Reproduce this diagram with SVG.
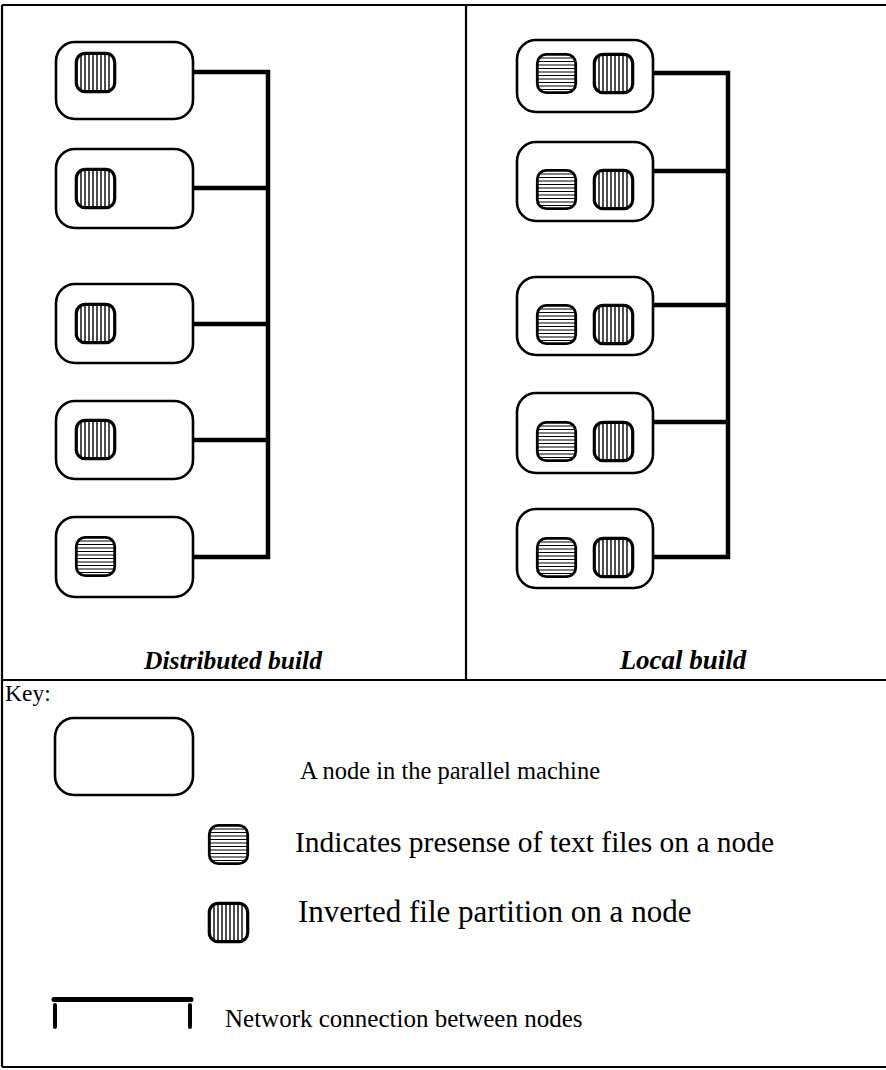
<svg xmlns="http://www.w3.org/2000/svg" xmlns:xlink="http://www.w3.org/1999/xlink" width="886" height="1070" viewBox="0 0 886 1070">
<style>
.frame{fill:none;stroke:#000;stroke-width:2.2}
.node{fill:#fff;stroke:#000;stroke-width:2.6}
.conn{fill:none;stroke:#000;stroke-width:4.5;stroke-linecap:butt;stroke-linejoin:miter}
.title{font-family:"Liberation Serif","Times New Roman",serif;font-weight:bold;font-style:italic;fill:#000}
.key{font-family:"Liberation Serif","Times New Roman",serif;fill:#000}
.hl{stroke:#000;stroke-width:1}
.vl{stroke:#000;stroke-width:1.4}
.net{stroke:#000;stroke-linecap:round;fill:none}
</style>
<defs>
<clipPath id="ic"><rect x="1.3" y="1.3" width="38.4" height="38.4" rx="9"/></clipPath>
<symbol id="hIcon" viewBox="0 0 41 41" overflow="visible">
<rect x="1.3" y="1.3" width="38.4" height="38.4" rx="9" fill="#fff"/>
<g clip-path="url(#ic)" class="hl">
<line x1="0" y1="5" x2="41" y2="5"/><line x1="0" y1="8.5" x2="41" y2="8.5"/><line x1="0" y1="12" x2="41" y2="12"/><line x1="0" y1="15.5" x2="41" y2="15.5"/><line x1="0" y1="19" x2="41" y2="19"/><line x1="0" y1="22.5" x2="41" y2="22.5"/><line x1="0" y1="26" x2="41" y2="26"/><line x1="0" y1="29.5" x2="41" y2="29.5"/><line x1="0" y1="33" x2="41" y2="33"/><line x1="0" y1="36.5" x2="41" y2="36.5"/>
</g>
<rect x="1.3" y="1.3" width="38.4" height="38.4" rx="9" fill="none" stroke="#000" stroke-width="2.8"/>
</symbol>
<symbol id="vIcon" viewBox="0 0 41 41" overflow="visible">
<rect x="1.3" y="1.3" width="38.4" height="38.4" rx="9" fill="#fff"/>
<g clip-path="url(#ic)" class="vl">
<line x1="6" y1="0" x2="6" y2="41"/><line x1="10" y1="0" x2="10" y2="41"/><line x1="14" y1="0" x2="14" y2="41"/><line x1="18" y1="0" x2="18" y2="41"/><line x1="22" y1="0" x2="22" y2="41"/><line x1="26" y1="0" x2="26" y2="41"/><line x1="30" y1="0" x2="30" y2="41"/><line x1="34" y1="0" x2="34" y2="41"/>
</g>
<rect x="1.3" y="1.3" width="38.4" height="38.4" rx="9" fill="none" stroke="#000" stroke-width="3.2"/>
</symbol>
</defs>
<rect width="886" height="1070" fill="#fff"/>
<g id="frame">
<line class="frame" x1="2" y1="5" x2="886" y2="5"/>
<line class="frame" x1="2" y1="5" x2="2" y2="1067"/>
<line class="frame" x1="2" y1="1067" x2="886" y2="1067"/>
<line class="frame" x1="466" y1="5" x2="466" y2="680"/>
<line class="frame" x1="2" y1="680" x2="886" y2="680"/>
</g>
<g id="connectors">
<polyline class="conn" points="193,72 268,72 268,557 193,557"/>
<line class="conn" x1="193" y1="188" x2="268" y2="188"/>
<line class="conn" x1="193" y1="324" x2="268" y2="324"/>
<line class="conn" x1="193" y1="440" x2="268" y2="440"/>
<polyline class="conn" points="653,73 728,73 728,557 653,557"/>
<line class="conn" x1="653" y1="171" x2="728" y2="171"/>
<line class="conn" x1="653" y1="305" x2="728" y2="305"/>
<line class="conn" x1="653" y1="422" x2="728" y2="422"/>
</g>
<g id="d1"><rect class="node" x="56" y="42" width="137" height="77" rx="19"/><use href="#vIcon" x="75" y="52" width="41" height="41"/></g>
<g id="d2"><rect class="node" x="56" y="149" width="137" height="79" rx="19"/><use href="#vIcon" x="75" y="168" width="41" height="41"/></g>
<g id="d3"><rect class="node" x="56" y="284" width="137" height="79" rx="19"/><use href="#vIcon" x="75" y="303" width="41" height="41"/></g>
<g id="d4"><rect class="node" x="56" y="401" width="137" height="78" rx="19"/><use href="#vIcon" x="75" y="419" width="41" height="41"/></g>
<g id="d5"><rect class="node" x="56" y="517" width="137" height="80" rx="19"/><use href="#hIcon" x="75" y="536" width="41" height="41"/></g>
<g id="l1"><rect class="node" x="517" y="40" width="136" height="72" rx="19"/><use href="#hIcon" x="536" y="53" width="41" height="41"/><use href="#vIcon" x="593" y="53" width="41" height="41"/></g>
<g id="l2"><rect class="node" x="517" y="142" width="136" height="79" rx="19"/><use href="#hIcon" x="536" y="169" width="41" height="41"/><use href="#vIcon" x="593" y="169" width="41" height="41"/></g>
<g id="l3"><rect class="node" x="517" y="277" width="136" height="78" rx="19"/><use href="#hIcon" x="536" y="304" width="41" height="41"/><use href="#vIcon" x="593" y="304" width="41" height="41"/></g>
<g id="l4"><rect class="node" x="517" y="393" width="136" height="80" rx="19"/><use href="#hIcon" x="536" y="421" width="41" height="41"/><use href="#vIcon" x="593" y="421" width="41" height="41"/></g>
<g id="l5"><rect class="node" x="517" y="509" width="136" height="79" rx="19"/><use href="#hIcon" x="536" y="537" width="41" height="41"/><use href="#vIcon" x="593" y="537" width="41" height="41"/></g>
<g id="labels">
<text class="title" x="233" y="669" style="font-size:25.5px" text-anchor="middle">Distributed build</text>
<text class="title" x="683" y="669" style="font-size:27px" text-anchor="middle">Local build</text>
</g>
<g id="key">
<text class="key" x="5" y="701" style="font-size:23.5px">Key:</text>
<rect class="node" x="55" y="718" width="138" height="77" rx="19"/>
<text class="key" x="300" y="779" style="font-size:24.5px">A node in the parallel machine</text>
<use href="#hIcon" x="208" y="824" width="41" height="41"/>
<text class="key" x="295" y="852" style="font-size:29.5px">Indicates presense of text files on a node</text>
<use href="#vIcon" x="208" y="902" width="41" height="41"/>
<text class="key" x="298" y="922" style="font-size:31px">Inverted file partition on a node</text>
<line class="net" x1="54" y1="999.5" x2="191" y2="999.5" stroke-width="5"/>
<line class="net" x1="55" y1="1005" x2="55" y2="1027" stroke-width="4"/>
<line class="net" x1="190" y1="1005" x2="190" y2="1027" stroke-width="4"/>
<text class="key" x="225" y="1027" style="font-size:25px">Network connection between nodes</text>
</g>
</svg>
